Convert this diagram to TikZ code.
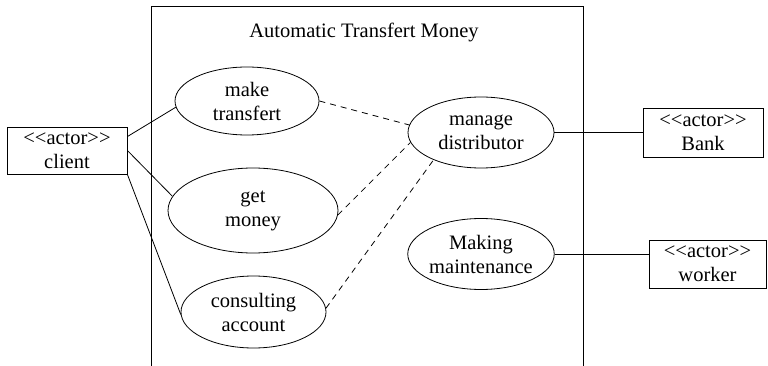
\documentclass[tikz,border=0pt]{standalone}
\usepackage{fontspec}
\setmainfont[Ligatures=NoCommon]{Liberation Serif}
\newfontfamily\diagfont[Ligatures=NoCommon]{Liberation Serif}
\usetikzlibrary{shapes.geometric}
\newcommand{\actorlbl}{{<}{<}actor{>}{>}}
\begin{document}
\begin{tikzpicture}[x=1pt,y=-1pt,
  txt/.style={font=\diagfont\fontsize{20.5}{24}\selectfont},
  uc/.style={txt, draw, ellipse, inner sep=0pt, align=center, line width=0.8pt},
  actorbox/.style={txt, draw, rectangle, inner sep=0pt, align=center, line width=0.8pt},
  link/.style={line width=0.8pt},
  dep/.style={line width=0.8pt, dash pattern=on 6pt off 5pt}]
\useasboundingbox (0,0) rectangle (768,366);
% system boundary
\draw[link] (151,366) -- (151,6) -- (583,6) -- (583,366);
\node[txt] (title) at (364,32) {Automatic Transfert Money};
% use cases
\node[uc, minimum width=144pt, minimum height=68pt] (mt) at (247,101) {make\\transfert};
\node[uc, minimum width=170pt, minimum height=85pt] (gm) at (253,210.5) {get\\money};
\node[uc, minimum width=145pt, minimum height=72pt] (ca) at (253.5,312) {consulting\\account};
\node[uc, minimum width=146pt, minimum height=71pt] (md) at (481,132.5) {manage\\distributor};
\node[uc, minimum width=144pt, minimum height=71pt] (mm) at (481,254) {Making\\maintenance};
% actors
\node[actorbox, minimum width=120pt, minimum height=47pt] (client) at (67,150.5) {\actorlbl\\client};
\node[actorbox, minimum width=120pt, minimum height=49pt] (bank) at (703,132.5) {\actorlbl\\Bank};
\node[actorbox, minimum width=117pt, minimum height=48pt] (worker) at (707.5,264) {\actorlbl\\worker};
% associations
\draw[link] (client.13) -- (mt.185);
\draw[link] (client.east) -- (gm.170);
\draw[link] (client.south east) -- (ca.182);
\draw[link] (md.east) -- (bank.west);
\draw[link] (mm.east) -- (mm.east -| worker.west);
% dependencies
\draw[dep] (mt.east) -- (md.174);
\draw[dep] (gm.357) -- (md.188);
\draw[dep] (ca.3) -- (md.210);
\end{tikzpicture}
\end{document}
